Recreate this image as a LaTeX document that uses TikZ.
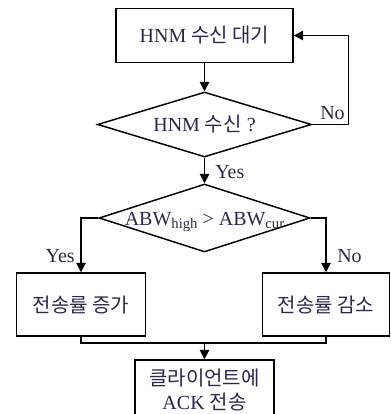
\documentclass[tikz,border=0pt]{standalone}
\usepackage{fontspec}
\setmainfont{Liberation Serif}
\newfontfamily\kr{Noto Sans CJK KR}
\usepackage{tikz}
\usetikzlibrary{shapes.geometric,arrows.meta,positioning}

\tikzset{
  procbox/.style={draw=cl,text=ct,rectangle,line width=1.1pt,inner sep=0pt,align=center,font=\fontsize{15pt}{18pt}\selectfont},
  testbox/.style={draw=cl,text=ct,diamond,line width=1.1pt,inner sep=0pt,text height=11pt,text depth=0pt,font=\fontsize{15pt}{18pt}\selectfont},
  lbl/.style={text=ct,inner sep=0pt,font=\fontsize{15pt}{18pt}\selectfont},
  flow/.style={draw=cl,line width=1.1pt,>={Triangle[length=7pt,width=7pt]}}
}
\newcommand{\subtxt}[1]{\raisebox{-2pt}{\fontsize{11pt}{13pt}\selectfont #1}}

\begin{document}
\begin{tikzpicture}[x=0.75pt,y=-0.75pt]
%
\useasboundingbox (0,0) rectangle (390,414);
%
\definecolor{cl}{rgb}{0.0,0.0,0.0}
\definecolor{ct}{rgb}{0.16,0.16,0.29}
%
\node[procbox,minimum width=132.75pt,minimum height=40.5pt] (wait) at (204.5,35.5) {HNM {\kr 수신 대기}};
\node[testbox,aspect=3.3,minimum width=160.5pt,minimum height=48.75pt] (recv) at (204.5,124.5) {HNM {\kr 수신} ?};
\node[testbox,aspect=3.1,minimum width=158.25pt,minimum height=51pt] (cmp) at (204.5,218) {ABW\subtxt{high} > ABW\subtxt{cur}};
\node[procbox,minimum width=96.75pt,minimum height=47.25pt] (inc) at (81,304.5) {{\kr 전송률 증가}};
\node[procbox,minimum width=95.25pt,minimum height=47.25pt] (dec) at (326,304.5) {{\kr 전송률 감소}};
\node[procbox,minimum width=104.25pt,minimum height=45pt] (ack) at (204.5,390) {{\kr 클라이언트에}\\ACK {\kr 전송}};
%
\node[lbl,anchor=south east] (lno1) at (345,120) {No};
\node[lbl,anchor=west] (lyes1) at (215,172) {Yes};
\node[lbl,anchor=east] (lyes2) at (75,256) {Yes};
\node[lbl,anchor=west] (lno2) at (337,256) {No};
%
\coordinate (mrg) at (204.5,343);
%
\draw[flow,->] (wait) -- (recv);
\draw[flow,->] (recv.east) -- ++(36,0) |- (wait.east);
\draw[flow,->] (recv) -- (cmp);
\draw[flow,->] (cmp.west) -| (inc.north);
\draw[flow,->] (cmp.east) -| (dec.north);
\draw[flow] (inc.south) |- (mrg) -| (dec.south);
\draw[flow,->] (mrg) -- (ack);
%
\end{tikzpicture}
\end{document}
